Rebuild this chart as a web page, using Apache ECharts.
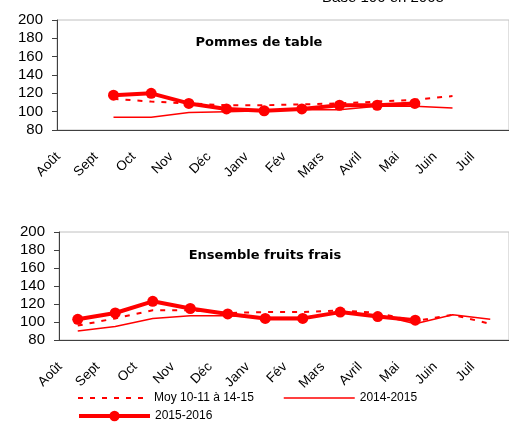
<!DOCTYPE html>
<html>
<head>
<meta charset="utf-8">
<script src="https://cdn.jsdelivr.net/npm/echarts@6/dist/echarts.min.js"></script>
<style>
  html, body { margin: 0; padding: 0; background: #fff; }
  #main { width: 509px; height: 422px; }
</style>
</head>
<body>
<div id="main"></div>
<script>
// mois (campagne août -> juillet)
var mois = ['Août', 'Sept', 'Oct', 'Nov', 'Déc', 'Janv', 'Fév', 'Mars', 'Avril', 'Mai', 'Juin', 'Juil'];
var yTicks = [80, 100, 120, 140, 160, 180, 200];

// Pommes de table
var pommesMoy = [null, 114, 111, 109, 107, 107, 108, 109, 111, 113, 117, null];
var pommes1415 = [null, 94, 94, 99, 100, 101, 102, 102, 106, 106, 104, null];
var pommes1516 = [null, 118, 120, 109, 103, 101, 103, 107, 107, 109, null, null];

// Ensemble fruits frais
var fruitsMoy = [96, 104, 113, 113, 110, 111, 111, 113, 110, 101, 108, 98];
var fruits1415 = [90, 95, 104, 107, 107, 105, 105, 110, 108, 98, 108, 103];
var fruits1516 = [103, 110, 123, 115, 109, 104, 104, 111, 106, 102, null, null];

var nomMoy = 'Moy 10-11 à 14-15';
var nom1415 = '2014-2015';
var nom1516 = '2015-2016';

var ROUGE = '#ff0000';
var POLICE = 'Liberation Sans, Arial, sans-serif';
var TIRETS = [5, 7];

function xAxe(idx) {
    return {
        type: 'category',
        gridIndex: idx,
        data: mois,
        boundaryGap: true,
        axisLine: { lineStyle: { color: '#404040', width: 1 } },
        axisTick: { length: 5, lineStyle: { color: '#404040' } },
        axisLabel: {
            rotate: 45,
            margin: 7,
            interval: 0,
            padding: [0, 25, 0, 0],
            color: '#000',
            fontSize: 13.5,
            fontFamily: POLICE
        },
        splitLine: { show: false }
    };
}
function yAxe(idx) {
    return {
        type: 'value',
        gridIndex: idx,
        min: yTicks[0],
        max: yTicks[yTicks.length - 1],
        interval: 20,
        axisLine: { show: true, lineStyle: { color: '#404040', width: 1 } },
        axisTick: { show: true, length: 5, lineStyle: { color: '#404040' } },
        axisLabel: { color: '#000', fontSize: 15, margin: 14, fontFamily: POLICE },
        splitLine: { show: false }
    };
}
function serieMoy(idx, data) {
    return {
        name: nomMoy, type: 'line', xAxisIndex: idx, yAxisIndex: idx,
        data: data, symbol: 'none', silent: true, z: 2,
        lineStyle: { color: ROUGE, width: 2, type: TIRETS },
        itemStyle: { color: ROUGE }
    };
}
function serie1415(idx, data) {
    return {
        name: nom1415, type: 'line', xAxisIndex: idx, yAxisIndex: idx,
        data: data, symbol: 'none', silent: true, z: 2,
        lineStyle: { color: ROUGE, width: 1.5 },
        itemStyle: { color: ROUGE }
    };
}
function serie1516(idx, data) {
    return {
        name: nom1516, type: 'line', xAxisIndex: idx, yAxisIndex: idx,
        data: data, symbol: 'circle', symbolSize: 11, showAllSymbol: true, silent: true, z: 3,
        lineStyle: { color: ROUGE, width: 4 },
        itemStyle: { color: ROUGE }
    };
}
// une légende par entrée pour placer chaque item comme sur l'original
function legende(item, left, top) {
    return {
        data: [item], left: left, top: top,
        itemWidth: 71, itemHeight: 13, itemGap: 0, padding: 0,
        selectedMode: false,
        textStyle: { color: '#000', fontSize: 12, fontFamily: POLICE }
    };
}

var myChart = echarts.init(document.getElementById('main'), null, { renderer: 'canvas' });
var option = {
    animation: false,
    backgroundColor: '#fff',
    title: [
        { text: 'Base 100 en 2008', left: 383, top: -10, textAlign: 'center', padding: 0,
          textStyle: { fontSize: 15, fontWeight: 'normal', color: '#000', fontFamily: POLICE } },
        { text: 'Pommes de table', left: 259, top: 36, textAlign: 'center', padding: 0,
          textStyle: { fontSize: 13, fontWeight: 'bold', color: '#000', fontFamily: 'DejaVu Sans, sans-serif' } },
        { text: 'Ensemble fruits frais', left: 265, top: 249, textAlign: 'center', padding: 0,
          textStyle: { fontSize: 13, fontWeight: 'bold', color: '#000', fontFamily: 'DejaVu Sans, sans-serif' } }
    ],
    grid: [
        { left: 57, top: 20, width: 456, height: 110, show: true, borderColor: '#c0c0c0', borderWidth: 1 },
        { left: 59, top: 232, width: 456, height: 108, show: true, borderColor: '#c0c0c0', borderWidth: 1 }
    ],
    xAxis: [xAxe(0), xAxe(1)],
    yAxis: [yAxe(0), yAxe(1)],
    legend: [
        legende({ name: nomMoy, itemStyle: { opacity: 0 },
                  lineStyle: { color: ROUGE, width: 2, type: TIRETS } }, 77, 392),
        legende({ name: nom1415, itemStyle: { opacity: 0 },
                  lineStyle: { color: ROUGE, width: 1.5 } }, 283, 392),
        legende({ name: nom1516, itemStyle: { color: ROUGE },
                  lineStyle: { color: ROUGE, width: 4 } }, 77, 410)
    ],
    series: [
        serieMoy(0, pommesMoy),
        serie1415(0, pommes1415),
        serie1516(0, pommes1516),
        serieMoy(1, fruitsMoy),
        serie1415(1, fruits1415),
        serie1516(1, fruits1516)
    ]
};
myChart.setOption(option);
window.onresize = myChart.resize;
</script>
</body>
</html>
